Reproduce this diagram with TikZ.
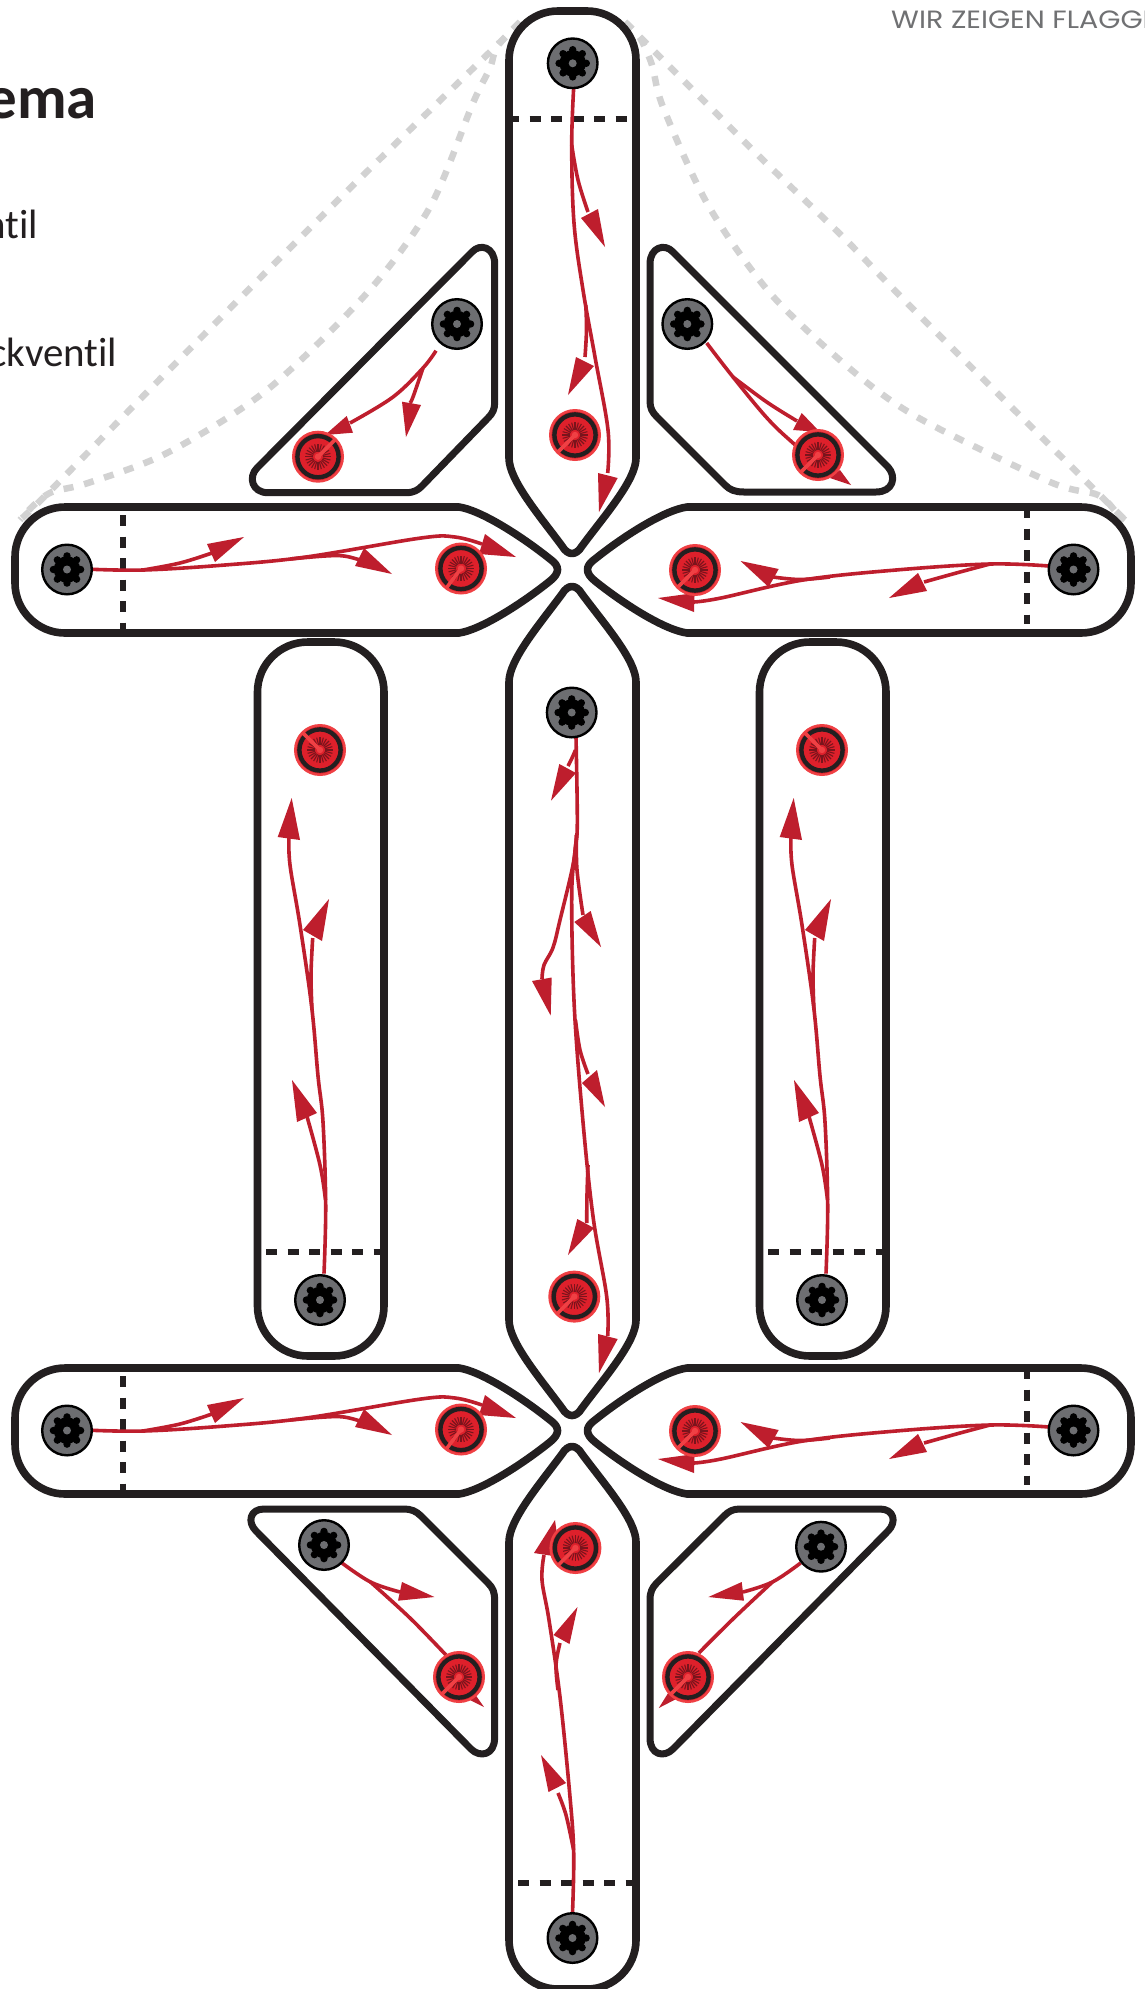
\documentclass[tikz,border=0pt]{standalone}
\usepackage{fontspec}
\setmainfont{Poppins}
\newfontfamily\myr[Ligatures=NoCommon]{Carlito}
\definecolor{ink}{HTML}{231F20}
\definecolor{flowred}{HTML}{BE1E2D}
\definecolor{valvered}{HTML}{DE202B}
\definecolor{valvelight}{HTML}{EF4044}
\definecolor{valvedark}{HTML}{7A141C}
\definecolor{gearbody}{HTML}{6D6E71}
\definecolor{hint}{HTML}{D2D2D2}
\definecolor{slogan}{HTML}{707173}
\tikzset{
  bar/.style={draw=ink,line width=7.6pt,fill=white,line join=round},
  tri/.style={draw=ink,line width=7pt,fill=white,line join=round},
  cut/.style={draw=ink,line width=6pt,dash pattern=on 11pt off 10.5pt},
  hintline/.style={draw=hint,line width=6.5pt,dash pattern=on 10pt off 11pt},
  flowline/.style={draw=flowred,line width=3.6pt,line join=round},
  flowhead/.style={fill=flowred},
}
\newcommand\flow[1]{\draw[flowline] plot[smooth,tension=.6] coordinates {#1};}
\newcommand\head[3]{\fill[flowhead] #1 -- #2 -- #3 -- cycle;}
\newcommand\gear[2]{\begin{scope}[shift={(#1,#2)}]
  \fill[gearbody,draw=black,line width=2.4pt] (0,0) circle (24.8);
  \fill[black] (0,0) circle (13.2);
  \foreach \a in {0,45,...,315}{\fill[black] (\a:13.6) circle (3.7);}
  \fill[gearbody] (0,0) circle (4);
\end{scope}}
\newcommand\valve[3]{\begin{scope}[shift={(#1,#2)}]
  \fill[valvered,draw=valvelight,line width=2.4pt] (0,0) circle (24.8);
  \draw[ink,line width=4.4pt] (0,0) circle (20.6);
  \foreach \a in {0,15,...,345}{\draw[valvedark,line width=1.1pt] (\a:5) -- (\a:12.8);}
  \draw[valvelight,line width=3.6pt] (0,0) -- (#3:24);
  \fill[valvelight] (0,0) circle (3.2);
\end{scope}}
\newcommand\leftflows{
  \flow{(85,569) (143,570) (225,565) (306,557) (421,538) (455,537) (482,544)}
  \flow{(143,570) (180,563) (212,553)}
  \head{(244,537)}{(207,544)}{(215,562)}
  \flow{(290,559) (325,556) (344,556) (360,560)}
  \head{(392,574)}{(364,548)}{(355,566)}
  \head{(516,557)}{(485,534)}{(479,554)}
}
\newcommand\rightflows{
  \flow{(1049,566) (990,564) (896,570) (803,580) (721,598) (694,602)}
  \flow{(990,564) (960,572) (924,582)}
  \head{(889,598)}{(918,573)}{(927,591)}
  \flow{(830,577) (800,579.5) (773,577)}
  \head{(740.5,561)}{(778.7,569)}{(768.6,587)}
  \head{(658,598)}{(694.6,593)}{(694,612)}
}
\newcommand\sideflows{
  \flow{(324,1273.6) (325.7,1205) (323,1122) (318,1076) (311.7,1007) (300,925) (290,865) (289,837)}
  \head{(291.7,798)}{(277.7,837)}{(300,840)}
  \flow{(325.5,1200) (320,1165) (306,1113)}
  \head{(292,1080)}{(317,1113)}{(297,1122)}
  \flow{(312,1010) (311,975) (312.7,938)}
  \head{(329,899)}{(303,930)}{(322,941)}
}
\begin{document}
\begin{tikzpicture}[x=1pt,y=-1pt]
\useasboundingbox (0,0) rectangle (1145,1989);
\clip (0,0) rectangle (1145,1989);
\fill[white] (0,0) rectangle (1145,1989);
% texts
\node[anchor=base east,inner sep=0pt,text=ink,font={\myr\bfseries\fontsize{61}{61}\selectfont}] (title) at (97,118) {ema};
\node[anchor=base east,inner sep=0pt,text=ink,font={\myr\fontsize{41}{41}\selectfont}] (ta) at (38.5,238) {ntil};
\node[anchor=base east,inner sep=0pt,text=ink,font={\myr\fontsize{41}{41}\selectfont}] (tb) at (117.5,366) {ckventil};
\node[anchor=base west,inner sep=0pt,text=slogan,xscale=1.14,transform shape,font={\fontsize{25}{25}\selectfont}] (slogan) at (891,28) {WIR ZEIGEN FLAGGE};
% hint curves
\draw[hintline] plot[smooth,tension=.5] coordinates {(520,22) (495,47) (333,205) (167,372) (48,493) (20,520)};
\draw[hintline] plot[smooth,tension=.5] coordinates {(520,22) (497,47) (490,68) (473,103) (430,207) (367,293) (267,390) (167,453) (88,483) (52,492) (34,505) (20,520)};
\draw[hintline] plot[smooth,tension=.5] coordinates {(625,22) (705,102) (765,162) (843,237) (917,313) (1125,520)};
\draw[hintline] plot[smooth,tension=.5] coordinates {(625,22) (640,38) (652,65) (663,107) (708,205) (770,293) (848,367) (917,417) (1050,482) (1098,495) (1117,513) (1125,520)};
% top bar
\draw[bar] (509,60) .. controls (509,33) and (531,11) .. (558,11) -- (587,11) .. controls (614,11) and (636,33) .. (636,60) -- (636,458) .. controls (636,480) and (605,515) .. (582,546) .. controls (576,556) and (568,556) .. (562,546) .. controls (539,515) and (509,480) .. (509,458) -- cycle;
% centre bar
\draw[bar] (509,682) .. controls (509,660) and (539,625) .. (562,594) .. controls (568,584) and (576,584) .. (582,594) .. controls (605,625) and (636,660) .. (636,682) -- (636,1320) .. controls (636,1342) and (605,1377) .. (582,1408) .. controls (576,1418) and (568,1418) .. (562,1408) .. controls (539,1377) and (509,1342) .. (509,1320) -- cycle;
% bottom bar
\draw[bar] (509,1542) .. controls (509,1520) and (539,1485) .. (562,1454) .. controls (568,1444) and (576,1444) .. (582,1454) .. controls (605,1485) and (636,1520) .. (636,1542) -- (636,1940) .. controls (636,1967) and (614,1989) .. (587,1989) -- (558,1989) .. controls (531,1989) and (509,1967) .. (509,1940) -- cycle;
% horizontal bars
\foreach \dy in {0,861}{
\begin{scope}[shift={(0,\dy)}]
\draw[bar] (65,507) -- (459,507) .. controls (480,510) and (520,535) .. (550,559) .. controls (560,566) and (560,573) .. (550,581) .. controls (520,605) and (480,630) .. (459,633) -- (65,633) .. controls (37.5,633) and (15,610.5) .. (15,583) -- (15,557) .. controls (15,529.5) and (37.5,507) .. (65,507) -- cycle;
\draw[bar] (1081,507) -- (687,507) .. controls (665,510) and (625,535) .. (595,559) .. controls (585,566) and (585,573) .. (595,581) .. controls (625,605) and (665,630) .. (687,633) -- (1081,633) .. controls (1108.5,633) and (1131,610.5) .. (1131,583) -- (1131,557) .. controls (1131,529.5) and (1108.5,507) .. (1081,507) -- cycle;
\draw[cut] (123,515) -- (123,629);
\draw[cut] (1026.5,507) -- (1026.5,624);
\leftflows
\rightflows
\valve{461}{568.5}{127}
\valve{695}{570}{135}
\gear{67}{569.5}
\gear{1073.5}{569.5}
\end{scope}}
% side bars
\foreach \dx in {0,502}{
\begin{scope}[shift={(\dx,0)}]
\draw[bar] (257.5,692) .. controls (257.5,664.5) and (280,642) .. (308,642) -- (334,642) .. controls (362,642) and (384,664.5) .. (384,692) -- (384,1306) .. controls (384,1333.5) and (362,1356) .. (334,1356) -- (308,1356) .. controls (280,1356) and (257.5,1333.5) .. (257.5,1306) -- cycle;
\draw[cut] (266,1252) -- (381,1252);
\sideflows
\valve{320}{750}{225}
\gear{320}{1300}
\end{scope}}
% triangles
\draw[tri] (650,264) .. controls (650,247) and (665,243) .. (673,252) -- (888,467) .. controls (897,477) and (893,492) .. (876,492) -- (744,492) .. controls (735,492) and (730,490) .. (725,485) -- (657,417) .. controls (652,412) and (650,408) .. (650,401) -- cycle;
\draw[tri] (494.7,264) .. controls (494.7,247) and (480,243) .. (472,252) -- (257,468) .. controls (248,477) and (252,492.7) .. (268,492.7) -- (406,492.7) .. controls (414,492.7) and (418,490) .. (422,486) -- (488,418) .. controls (493,413) and (494.7,409) .. (494.7,402) -- cycle;
\draw[tri] (264,1509) -- (404,1509) .. controls (411,1509) and (416,1511) .. (421,1516) -- (488,1583) .. controls (493,1588) and (494.6,1592) .. (494.6,1600) -- (494.6,1738) .. controls (494.6,1755) and (480,1758) .. (471,1749) -- (256,1531) .. controls (247,1522) and (250,1509) .. (264,1509) -- cycle;
\draw[tri] (880,1509) -- (740,1509) .. controls (733,1509) and (729,1511) .. (724,1516) -- (656.7,1583) .. controls (652,1588) and (650,1592) .. (650,1600) -- (650,1738) .. controls (650,1755) and (664,1758) .. (673,1749) -- (888,1531) .. controls (897,1522) and (894,1509) .. (880,1509) -- cycle;
% cut lines of the vertical bars
\draw[cut,dash phase=4pt] (512,119) -- (627,119);
\draw[cut] (518,1883) -- (633.5,1883);
% top bar flows
\flow{(573.7,87) (571.7,145) (574,223) (583,290) (595,357) (608,430) (607.7,473)}
\flow{(571.7,145) (578,180) (588,212)}
\head{(605,247)}{(598,209)}{(581,218)}
\flow{(585.8,305) (586.5,330) (585,357)}
\head{(568,395)}{(576,357)}{(594,366)}
\head{(599,512)}{(598,473)}{(617.7,478)}
% centre bar flows
\flow{(576,737) (577.3,823.6) (575,851) (571.7,897) (574.3,1007) (583,1122) (593.3,1218.5) (606.7,1296.6) (607.7,1336)}
\flow{(575.5,750) (572,758) (568,766)}
\head{(551,800.7)}{(559.3,764)}{(576,773)}
\flow{(576.5,835) (573,865) (560,920) (553,947.6) (544,965) (542,979)}
\head{(550.7,1015.6)}{(532,981)}{(551.7,977.5)}
\flow{(576.5,835) (577,870) (583,915)}
\head{(601,947)}{(590.7,911)}{(574.3,922)}
\flow{(575.5,1020) (580,1050) (588,1074)}
\head{(605,1107)}{(597,1070)}{(582,1083)}
\flow{(588,1165) (587,1195) (586.7,1223)}
\head{(568,1255)}{(577.3,1219)}{(594,1228)}
\head{(599,1373)}{(598,1334)}{(617.7,1339)}
% bottom bar flows
\flow{(572.5,1913) (573.7,1853) (570,1797) (560,1697) (549,1620) (542,1580) (544,1555)}
\head{(555,1520)}{(534,1553)}{(560,1557)}
\flow{(573.6,1850) (566,1815) (558,1793)}
\head{(541,1755)}{(566,1783)}{(548.5,1792)}
\flow{(558,1690) (556,1665) (560,1643)}
\head{(577.5,1607)}{(553.5,1635)}{(569.5,1644)}
% triangle flows
\flow{(706.7,343) (733,377) (767,418) (793,443) (825,470)}
\flow{(733,377) (766.7,402) (797,421)}
\head{(820,432)}{(801.7,413)}{(793,430)}
\head{(851,485)}{(840,470)}{(830,478)}
\flow{(436,350.7) (423,368) (393,397) (350,423)}
\head{(325,435)}{(346.7,416)}{(353,432.7)}
\flow{(423,368) (413,397) (410,403)}
\head{(406,437)}{(402,401.7)}{(421,405)}
\flow{(342,1563) (370.5,1582) (400,1592)}
\head{(434.4,1597)}{(402,1582)}{(398,1600.7)}
\flow{(370.5,1582) (410,1618) (446,1655)}
\head{(484,1707)}{(472,1690)}{(464,1697)}
\flow{(800.6,1563) (772.4,1582) (743,1592)}
\head{(708.4,1597)}{(741.7,1582)}{(744,1600.7)}
\flow{(772.4,1582) (734,1618) (698.8,1653)}
\head{(658.8,1708)}{(670,1690)}{(680,1697)}
% gears and valves on vertical bars and triangles
\gear{572.7}{63.3}
\valve{575}{435}{135}
\gear{571.7}{712.5}
\valve{574.3}{1296.6}{135}
\valve{575.4}{1548}{135}
\gear{572.5}{1938}
\gear{687.3}{324}
\valve{818}{455}{135}
\gear{457}{324}
\valve{318}{456.7}{-45}
\gear{324}{1545}
\valve{459}{1677}{135}
\gear{821}{1546.7}
\valve{688}{1677}{135}
\end{tikzpicture}
\end{document}
